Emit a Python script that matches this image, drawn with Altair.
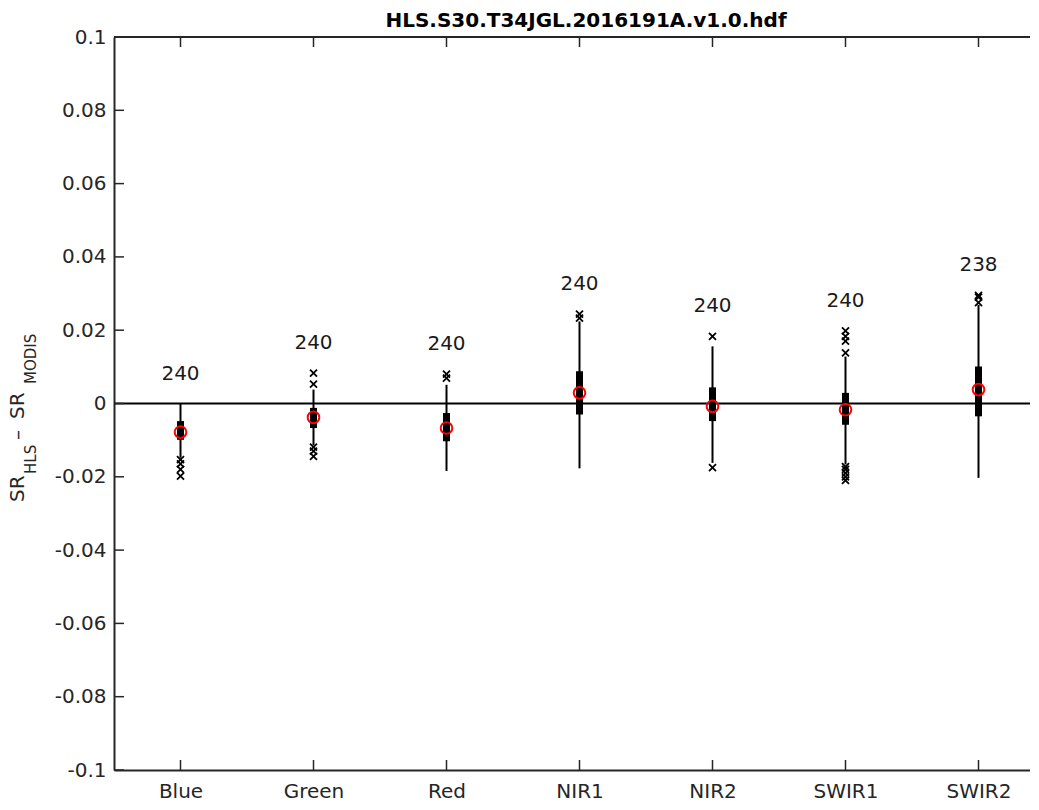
import json
import altair as alt
import pandas as pd

# ---------------- data ----------------
categories = ["Blue", "Green", "Red", "NIR1", "NIR2", "SWIR1", "SWIR2"]
counts = [240, 240, 240, 240, 240, 240, 238]
whisker_low = [-0.0148, -0.0114, -0.0184, -0.0177, -0.0162, -0.0166, -0.0203]
box_low = [-0.0099, -0.0067, -0.0103, -0.0030, -0.0048, -0.0058, -0.0035]
box_high = [-0.0048, -0.0012, -0.0026, 0.0088, 0.0044, 0.0029, 0.0101]
whisker_high = [0.0000, 0.0038, 0.0051, 0.0224, 0.0156, 0.0128, 0.0269]
center_marker = [-0.0078, -0.0038, -0.0067, 0.0029, -0.0008, -0.0017, 0.0038]
outliers_blue = [-0.0153, -0.0165, -0.0180, -0.0198]
outliers_green = [0.0083, 0.0053, -0.0119, -0.0130, -0.0144]
outliers_red = [0.0080, 0.0069]
outliers_nir1 = [0.0244, 0.0233]
outliers_nir2 = [0.0183, -0.0175]
outliers_swir1 = [0.0198, 0.0183, 0.0170, 0.0138, -0.0172, -0.0180, -0.0190, -0.0200, -0.0210]
outliers_swir2 = [0.0295, 0.0290, 0.0275]
y_ticks = [-0.1, -0.08, -0.06, -0.04, -0.02, 0.0, 0.02, 0.04, 0.06, 0.08, 0.1]
title_text = "HLS.S30.T34JGL.2016191A.v1.0.hdf"

# ---------------- tables ----------------
positions = list(range(1, len(categories) + 1))
outlier_lists = [outliers_blue, outliers_green, outliers_red, outliers_nir1,
                 outliers_nir2, outliers_swir1, outliers_swir2]
df = pd.DataFrame({
    "pos": positions,
    "cat": categories,
    "n": counts,
    "wl": whisker_low,
    "q1": box_low,
    "q3": box_high,
    "wh": whisker_high,
    "m": center_marker,
    "top": [max([wh] + ol) for wh, ol in zip(whisker_high, outlier_lists)],
})
out_df = pd.DataFrame(
    [{"pos": p, "v": v} for p, ol in zip(positions, outlier_lists) for v in ol]
)
ytick_df = pd.DataFrame({"v": y_ticks})
zero_df = pd.DataFrame({"v": [0.0]})
one_df = pd.DataFrame({"a": [0]})

# ---------------- styling ----------------
W, H = 916, 733
FONT = "DejaVu Sans"
AX = "#262626"
XMAX = 0.5 + W / 133.0

xs = alt.Scale(domain=[0.5, XMAX], nice=False, zero=False)
ys = alt.Scale(domain=[-0.1, 0.1], nice=False, zero=False)

xaxis = alt.Axis(values=positions, labelExpr=f"{json.dumps(categories)}[datum.value - 1]",
                 ticks=False, tickSize=0, grid=False, title=None, domain=True,
                 domainColor=AX, domainWidth=2, labelFont=FONT, labelFontSize=20,
                 labelColor=AX, labelPadding=11, labelOverlap=False, labelFlush=False)
yaxis = alt.Axis(values=y_ticks,
                 labelExpr="replace(format(datum.value, '.2~f'), '\u2212', '-')",
                 ticks=False, tickSize=0, grid=False, title=None, domain=True,
                 domainColor=AX, domainWidth=2, labelFont=FONT, labelFontSize=20,
                 labelColor=AX, labelPadding=8, labelOverlap=False)

X = alt.X("pos:Q", scale=xs, axis=xaxis)

def Y(field):
    return alt.Y(f"{field}:Q", scale=ys, axis=yaxis)

base = alt.Chart(df)

zero_line = alt.Chart(zero_df).mark_rule(color="black", strokeWidth=2).encode(y=Y("v"))

whiskers = base.mark_rule(color="black", strokeWidth=2).encode(x=X, y=Y("wl"), y2="wh")
boxes = base.mark_rule(color="black", strokeWidth=7, strokeCap="butt").encode(
    x=X, y=Y("q1"), y2="q3")
outs = alt.Chart(out_df).mark_point(
    shape="M-1,-1L1,1M-1,1L1,-1", size=49, filled=False, stroke="black",
    strokeWidth=1.8, opacity=1).encode(x=X, y=Y("v"))
means = base.mark_point(shape="circle", size=135, filled=False, stroke="#ff0000",
                        strokeWidth=2, opacity=1).encode(x=X, y=Y("m"))
labels = base.mark_text(dy=-30, font=FONT, fontSize=20, color="#1a1a1a",
                        baseline="middle", align="center").encode(
    x=X, y=Y("top"), text="n:Q")

# inward ticks (MATLAB style)
ytick_left = alt.Chart(ytick_df).mark_rule(color=AX, strokeWidth=1.5).encode(
    y=Y("v"), x=alt.value(0), x2=alt.value(10))
xtick_bottom = base.mark_rule(color=AX, strokeWidth=1.5).encode(
    x=X, y=alt.value(H), y2=alt.value(H - 10))
xtick_top = base.mark_rule(color=AX, strokeWidth=1.5).encode(
    x=X, y=alt.value(0), y2=alt.value(10))
top_border = alt.Chart(one_df).mark_rule(color=AX, strokeWidth=2).encode(
    x=alt.value(0), x2=alt.value(W), y=alt.value(0))

# title and y-axis title (with subscripts) as text marks
title = alt.Chart(one_df).mark_text(
    text=title_text, font=FONT, fontSize=20, fontWeight="bold", color="black",
    align="center", baseline="alphabetic").encode(x=alt.value(472), y=alt.value(-10))

def ytxt(text, size, xv, yv):
    return alt.Chart(one_df).mark_text(
        text=text, font=FONT, fontSize=size, color=AX, angle=270,
        align="left", baseline="alphabetic").encode(x=alt.value(xv), y=alt.value(yv))

ytitle = (ytxt("SR", 20, -90, 465) + ytxt("HLS", 15, -78, 437) +
          ytxt("\u2013", 20, -90, 403) + ytxt("SR", 20, -90, 382) +
          ytxt("MODIS", 15, -78, 347))

chart = alt.layer(
    zero_line, whiskers, boxes, outs, means, labels,
    ytick_left, xtick_bottom, xtick_top, top_border, title, ytitle,
).properties(
    width=W, height=H,
    autosize=alt.AutoSizeParams(type="none"),
    padding={"left": 106, "top": 29, "right": 0, "bottom": 33},
    background="white",
).configure_view(stroke=None)

chart.save("out.html", embed_options={"renderer": "svg", "actions": False})
